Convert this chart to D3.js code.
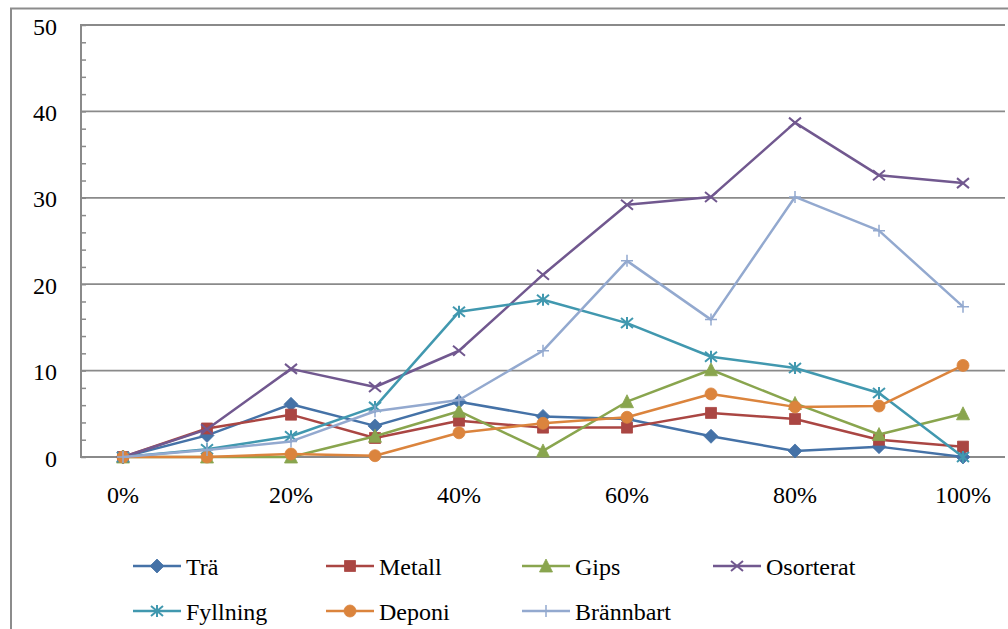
<!DOCTYPE html>
<html>
<head>
<meta charset="utf-8">
<script src="https://cdn.jsdelivr.net/npm/d3@7"></script>
<style>
  html, body { margin: 0; padding: 0; background: #fff; }
  svg { display: block; }
</style>
</head>
<body>
<svg id="chart" width="1008" height="629" font-family="'Liberation Serif', 'Times New Roman', Times, 'DejaVu Serif', serif"></svg>
<script>
// Share of each fraction (y) against sorting level (x)
const categories = ["0%", "10%", "20%", "30%", "40%", "50%", "60%", "70%", "80%", "90%", "100%"];
const xTickLabels = ["0%", "20%", "40%", "60%", "80%", "100%"];
const yTicks = [0, 10, 20, 30, 40, 50];

const seriesNames = ["Trä", "Metall", "Gips", "Osorterat", "Fyllning", "Deponi", "Brännbart"];
const tra       = [0, 2.5, 6.1, 3.6, 6.4, 4.7, 4.4, 2.4, 0.7, 1.2, 0];
const metall    = [0, 3.3, 4.9, 2.2, 4.2, 3.4, 3.4, 5.1, 4.4, 2.0, 1.2];
const gips      = [0, 0, 0, 2.4, 5.3, 0.7, 6.4, 10.1, 6.2, 2.6, 5.0];
const osorterat = [0, 3.2, 10.2, 8.1, 12.3, 21.1, 29.2, 30.1, 38.7, 32.6, 31.7];
const fyllning  = [0, 0.9, 2.4, 5.8, 16.8, 18.2, 15.5, 11.6, 10.3, 7.4, 0];
const deponi    = [0, 0, 0.35, 0.15, 2.8, 3.9, 4.6, 7.3, 5.8, 5.9, 10.6];
const brannbart = [0, 0.8, 1.8, 5.3, 6.6, 12.3, 22.7, 15.9, 30.1, 26.2, 17.4];

const seriesValues = [tra, metall, gips, osorterat, fyllning, deponi, brannbart];
const seriesColors = ["#4572A7", "#AA4643", "#89A54E", "#71588F", "#4198AF", "#DB843D", "#93A9CF"];
const seriesMarkers = ["diamond", "square", "triangle", "x", "asterisk", "circle", "plus"];

const svg = d3.select("#chart");
const W = 1008, H = 629;
const plot = { left: 81, right: 1005, top: 25, bottom: 457 };
const gridColor = "#8a8a8a";
const fontSize = 24;

// outer chart frame (top and left edges visible)
svg.append("path")
  .attr("d", `M11,${H} L11,8.5 L${W},8.5`)
  .attr("fill", "none")
  .attr("stroke", "#8c8c8c")
  .attr("stroke-width", 2);

const x = d3.scaleBand().domain(categories).range([plot.left, plot.right]).padding(0);
const xc = c => x(c) + x.bandwidth() / 2;
const y = d3.scaleLinear().domain([0, 50]).range([plot.bottom, plot.top]);

// horizontal gridlines
svg.append("g")
  .selectAll("line")
  .data(yTicks.filter(v => v > 0))
  .join("line")
  .attr("x1", plot.left).attr("x2", plot.right)
  .attr("y1", d => y(d)).attr("y2", d => y(d))
  .attr("stroke", gridColor).attr("stroke-width", 1.8);

// y axis with inward minor ticks
const yAxis = svg.append("g").attr("transform", `translate(${plot.left},0)`)
  .call(d3.axisRight(y).tickValues(d3.range(0, 51, 2)).tickSize(5).tickFormat(""));
yAxis.select(".domain").remove();
yAxis.selectAll("line").attr("stroke", gridColor).attr("stroke-width", 1.5);
svg.append("line")
  .attr("x1", plot.left).attr("x2", plot.left)
  .attr("y1", plot.top - 1).attr("y2", plot.bottom + 1)
  .attr("stroke", gridColor).attr("stroke-width", 2);

// y tick labels
svg.append("g")
  .selectAll("text")
  .data(yTicks)
  .join("text")
  .attr("x", 57)
  .attr("y", d => y(d) + 9.5)
  .attr("text-anchor", "end")
  .attr("font-size", fontSize)
  .text(d => d);

// x axis line
svg.append("line")
  .attr("x1", plot.left).attr("x2", plot.right)
  .attr("y1", plot.bottom).attr("y2", plot.bottom)
  .attr("stroke", gridColor).attr("stroke-width", 2);

// x tick labels
svg.append("g")
  .selectAll("text")
  .data(xTickLabels)
  .join("text")
  .attr("x", d => xc(d))
  .attr("y", 503)
  .attr("text-anchor", "middle")
  .attr("font-size", fontSize)
  .text(d => d);

// marker shapes
function markerPath(type) {
  const r = 6;
  switch (type) {
    case "diamond": return `M0,${-r - 1}L${r + 1},0L0,${r + 1}L${-r - 1},0Z`;
    case "square": return `M${-r + 0.5},${-r + 0.5}H${r - 0.5}V${r - 0.5}H${-r + 0.5}Z`;
    case "triangle": return `M0,${-r - 1}L${r + 0.5},${r}L${-r - 0.5},${r}Z`;
    case "circle": return d3.symbol(d3.symbolCircle, Math.PI * 36)();
    case "x": return `M${-r},${-r + 1}L${r},${r - 1}M${-r},${r - 1}L${r},${-r + 1}`;
    case "asterisk": return `M${-r},${-r + 1}L${r},${r - 1}M${-r},${r - 1}L${r},${-r + 1}M0,${-r}V${r}`;
    case "plus": return `M${-r},0H${r}M0,${-r}V${r}`;
  }
}
const filled = t => ["diamond", "square", "triangle", "circle"].includes(t);

function drawMarker(g, type, color, cx, cy) {
  g.append("path")
    .attr("d", markerPath(type))
    .attr("transform", `translate(${cx},${cy})`)
    .attr("fill", filled(type) ? color : "none")
    .attr("stroke", color)
    .attr("stroke-width", filled(type) ? 0.8 : (type === "plus" ? 1.5 : 2));
}

const line = d3.line().x((d, i) => xc(categories[i])).y(d => y(d));

// series lines and markers
seriesNames.forEach((name, s) => {
  const g = svg.append("g");
  g.append("path")
    .datum(seriesValues[s])
    .attr("d", line)
    .attr("fill", "none")
    .attr("stroke", seriesColors[s])
    .attr("stroke-width", 2.5)
    .attr("stroke-linejoin", "round");
  seriesValues[s].forEach((v, i) => drawMarker(g, seriesMarkers[s], seriesColors[s], xc(categories[i]), y(v)));
});

// legend
const legendCols = [133, 326, 522, 713];
const legendRows = [566, 611];
seriesNames.forEach((name, s) => {
  const lx = legendCols[s % 4], ly = legendRows[Math.floor(s / 4)];
  const g = svg.append("g");
  g.append("line")
    .attr("x1", lx).attr("x2", lx + 48)
    .attr("y1", ly).attr("y2", ly)
    .attr("stroke", seriesColors[s]).attr("stroke-width", 2.5);
  drawMarker(g, seriesMarkers[s], seriesColors[s], lx + 24, ly);
  g.append("text")
    .attr("x", lx + 53)
    .attr("y", ly + 9)
    .attr("font-size", fontSize)
    .text(name);
});
</script>
</body>
</html>
